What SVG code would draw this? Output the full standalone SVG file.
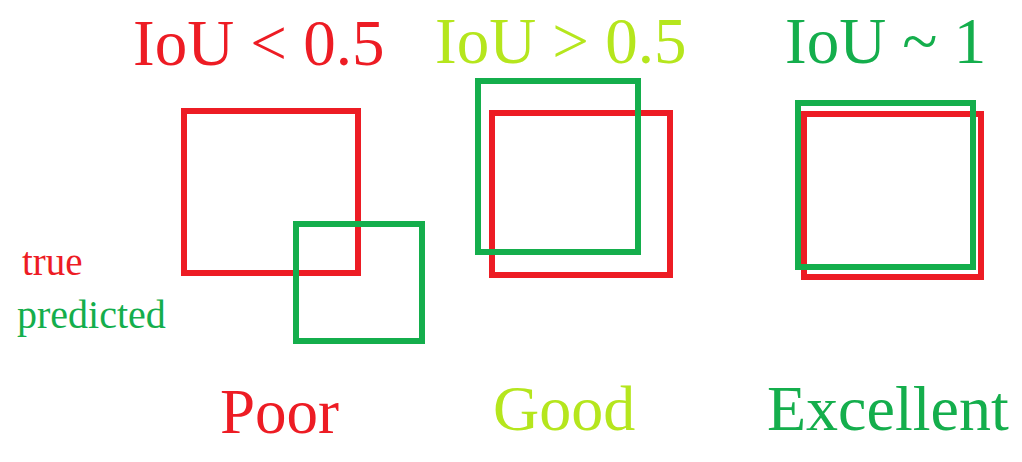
<svg xmlns="http://www.w3.org/2000/svg" width="1022" height="462" viewBox="0 0 1022 462">
<style>
.t{font-family:"Liberation Serif","Times New Roman",serif}
.red{fill:#ED1C24}
.lime{fill:#B5E61D}
.grn{fill:#14AE4C}
.rb{fill:none;stroke:#ED1C24;stroke-width:6}
.gb{fill:none;stroke:#14AE4C;stroke-width:6}
</style>
<rect width="1022" height="462" fill="#ffffff"/>
<g id="poor">
<text class="t red" x="133" y="65" font-size="65">IoU &lt; 0.5</text>
<rect class="rb" x="184" y="111" width="174" height="162"/>
<rect class="gb" x="296" y="224" width="126" height="117"/>
<text class="t red" x="220" y="433" font-size="63">Poor</text>
</g>
<g id="good">
<text class="t lime" x="435" y="63" font-size="65">IoU &gt; 0.5</text>
<rect class="rb" x="492" y="113" width="178" height="162"/>
<rect class="gb" x="478" y="81" width="160" height="171"/>
<text class="t lime" x="493" y="430" font-size="64">Good</text>
</g>
<g id="excellent">
<text class="t grn" x="785" y="63" font-size="65">IoU ~ 1</text>
<rect class="rb" x="804" y="114" width="177" height="163"/>
<rect class="gb" x="798" y="103" width="175" height="164"/>
<text class="t grn" x="767" y="430" font-size="64">Excellent</text>
</g>
<g id="legend">
<text class="t red" x="22" y="275" font-size="39">true</text>
<text class="t grn" x="17" y="328" font-size="40">predicted</text>
</g>
<g id="connectors"></g>
</svg>
